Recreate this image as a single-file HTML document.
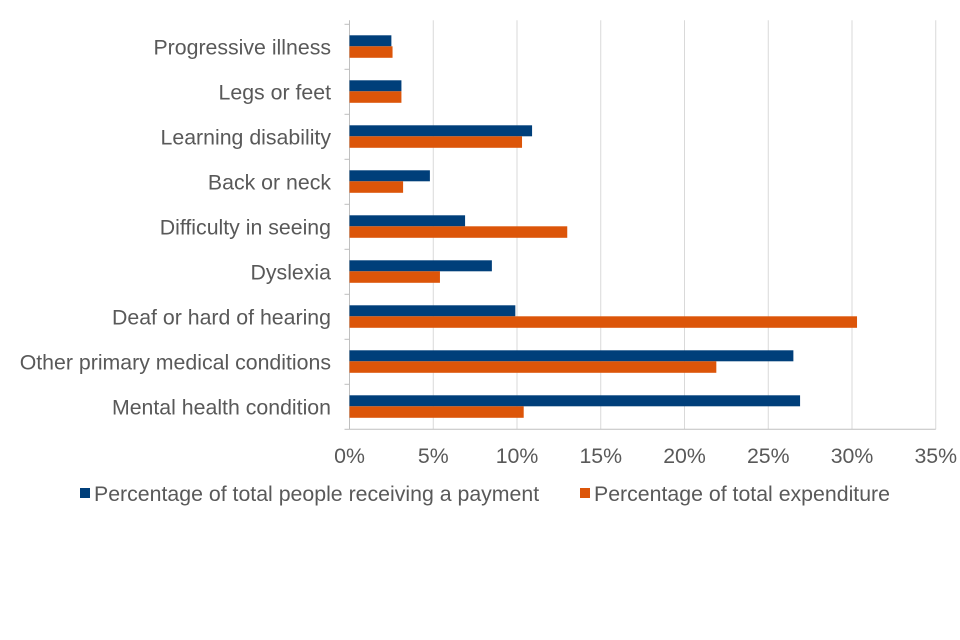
<!DOCTYPE html>
<html><head><meta charset="utf-8"><style>
body{margin:0;background:#fff;}
svg{display:block;font-family:"Liberation Sans",sans-serif;}
</style></head><body>
<svg id="chart" width="960" height="640"></svg>
<script>
const categories=["Progressive illness","Legs or feet","Learning disability","Back or neck","Difficulty in seeing","Dyslexia","Deaf or hard of hearing","Other primary medical conditions","Mental health condition"];
const peopleValues=[2.5,3.1,10.9,4.8,6.9,8.5,9.9,26.5,26.9];
const expenditureValues=[2.57,3.1,10.3,3.2,13.0,5.4,30.3,21.9,10.4];
const tickValues=[0,5,10,15,20,25,30,35];
const tickLabels=["0%","5%","10%","15%","20%","25%","30%","35%"];
const seriesNames=["Percentage of total people receiving a payment","Percentage of total expenditure"];

const NS="http://www.w3.org/2000/svg";
const svgEl=document.getElementById('chart');
const x0=349.5,pxPer=16.75,plotTop=24.3,band=45,fs=21.3,txt='#595959';
const xs=v=>x0+v*pxPer;
const yc=i=>plotTop+band*i+band/2;
function mk(t,a){const e=document.createElementNS(NS,t);for(const k in a)e.setAttribute(k,a[k]);svgEl.appendChild(e);return e;}

tickValues.forEach((v,i)=>{
  if(v>0){const g=mk('line',{x1:xs(v),x2:xs(v),y1:plotTop-4,y2:plotTop+band*9,stroke:'#d9d9d9','stroke-width':1});
  
  }
  const t=mk('text',{x:xs(v),y:463,'text-anchor':'middle','font-size':fs,fill:txt});
  t.textContent=tickLabels[i];
  
  
});
const ax=mk('line',{x1:x0,x2:x0,y1:plotTop-4,y2:plotTop+band*9,stroke:'#bfbfbf','stroke-width':1});


const xax=mk('line',{x1:x0,x2:xs(35),y1:plotTop+band*9,y2:plotTop+band*9,stroke:'#bfbfbf','stroke-width':1});


for(let i=0;i<=9;i++){
  const tk=mk('line',{x1:x0-5,x2:x0,y1:plotTop+band*i,y2:plotTop+band*i,stroke:'#bfbfbf'});
  
  
}
categories.forEach((c,i)=>{
  const y=yc(i);
  const t=mk('text',{x:331,y:y+7.5,'text-anchor':'end','font-size':fs,fill:txt});
  t.textContent=c;
  
  
  const b1=mk('rect',{x:x0,y:y-11.5,width:xs(peopleValues[i])-x0,height:11,fill:'#003f7a'});
  
  
  const b2=mk('rect',{x:x0,y:y-0.5,width:xs(expenditureValues[i])-x0,height:11.5,fill:'#dc5509'});
  
  
});
const legX=[80,580],cols=['#003f7a','#dc5509'];
seriesNames.forEach((n,i)=>{
  const r=mk('rect',{x:legX[i],y:488,width:10,height:10,fill:cols[i]});
  
  
  const t=mk('text',{x:legX[i]+14,y:501,'font-size':fs,fill:txt});
  t.textContent=n;
  
  
});
</script>
</body></html>
